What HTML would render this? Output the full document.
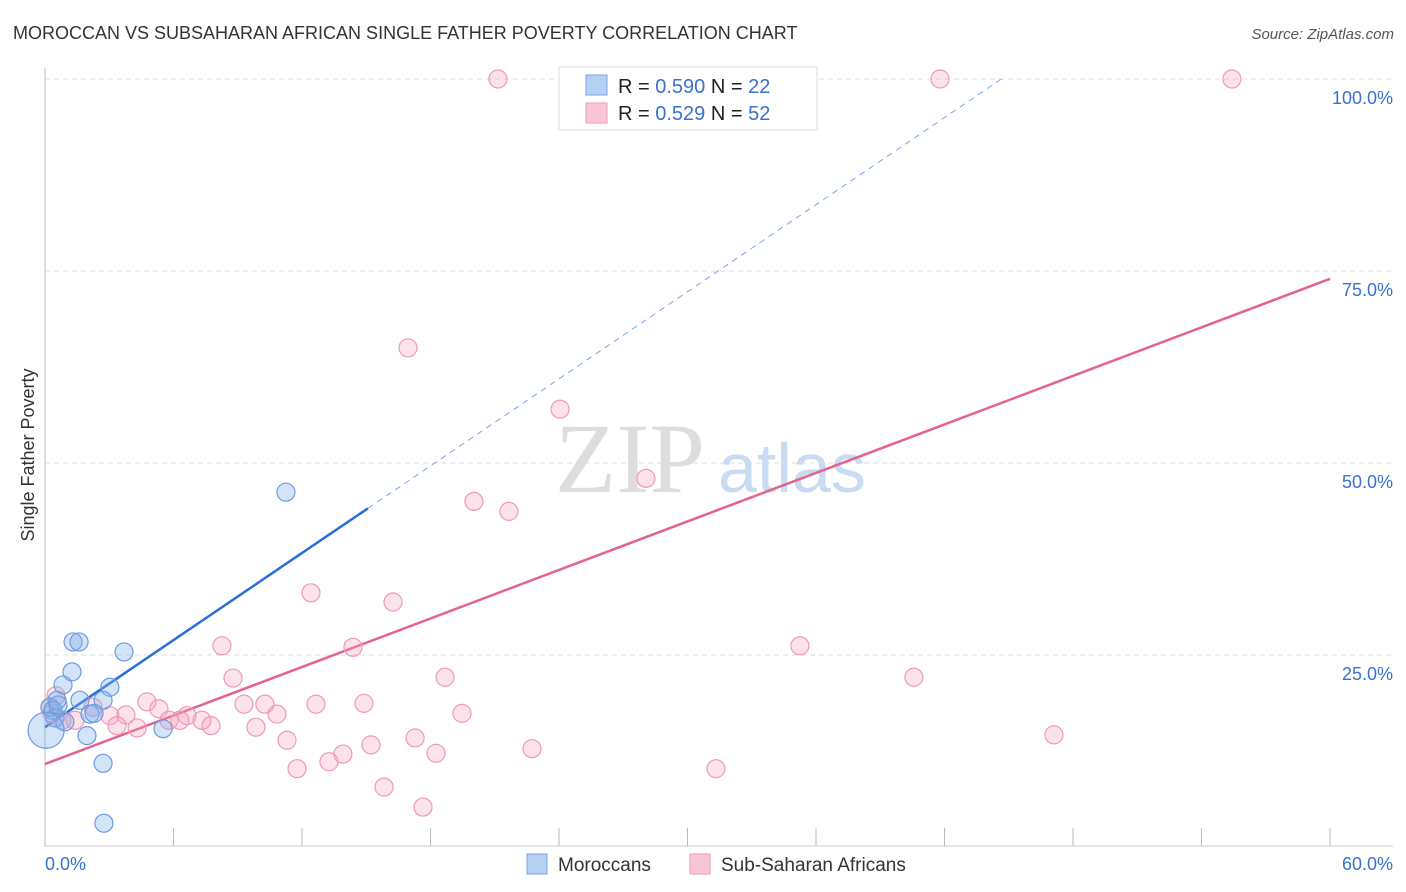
<!DOCTYPE html>
<html><head><meta charset="utf-8"><style>
body{margin:0;background:#fff;font-family:"Liberation Sans",sans-serif;}
svg{display:block}
</style></head><body>
<svg id="chart" width="1406" height="892" viewBox="0 0 1406 892">
<text x="13" y="39" font-size="18" fill="#333">MOROCCAN VS SUBSAHARAN AFRICAN SINGLE FATHER POVERTY CORRELATION CHART</text>
<text x="1394" y="39" font-size="15" fill="#555" font-style="italic" text-anchor="end">Source: ZipAtlas.com</text>
<text x="555" y="492" font-size="100" fill="#ddd" font-family="Liberation Serif, serif">ZIP</text>
<text x="718" y="492" font-size="70" fill="#c8dbf3">atlas</text>
<text transform="translate(34,455) rotate(-90)" font-size="18" fill="#333" text-anchor="middle">Single Father Poverty</text>
<g id="grid"></g><g id="axes"></g><g id="lines"></g><g id="pts"></g>
<g>
<rect x="559" y="67" width="258" height="63" fill="#fff" stroke="#ddd"/>
<rect x="586" y="75" width="21" height="20" fill="#b6d0f4" stroke="#7aa6e6"/>
<rect x="586" y="103" width="21" height="20" fill="#f9c6d6" stroke="#ee9ab5"/>
<text x="618" y="93" font-size="20" fill="#222">R = <tspan fill="#3a70d0">0.590</tspan>   N = <tspan fill="#3a70d0">22</tspan></text>
<text x="618" y="120" font-size="20" fill="#222">R =  <tspan fill="#3a70d0">0.529</tspan>   N = <tspan fill="#3a70d0">52</tspan></text>
</g>
<g>
<rect x="527" y="854" width="20" height="20" fill="#b6d0f4" stroke="#7aa6e6"/>
<text x="558" y="871" font-size="19" fill="#333">Moroccans</text>
<rect x="690" y="854" width="20" height="20" fill="#f9c6d6" stroke="#ee9ab5"/>
<text x="721" y="871" font-size="19" fill="#333">Sub-Saharan Africans</text>
</g>
</svg>
<script>
const xTicks=[0,60];
const yTicks=[25,50,75,100];
const yTickLabels=["25.0%","50.0%","75.0%","100.0%"];
const moroccanX=[1.31,1.59,3.69,0.84,1.26,3.03,0.56,2.71,2.10,2.29,0.23,0.37,0.47,0.93,1.96,5.51,2.71,2.75,11.25,0.61,0.05,1.63];
const moroccanY=[26.7,26.7,25.4,21.1,22.8,20.8,19.1,19.1,17.3,17.4,18.2,17.8,16.8,16.3,14.5,15.4,10.9,3.1,46.2,18.5,15.2,19.1];
const moroccanR=[9,9,9,9,9,9,9,9,9,9,9,9,9,9,9,9,9,9,9,9,18,9];
const subX=[21.15,41.79,55.42,16.95,24.05,28.06,20.03,21.66,12.42,16.25,35.25,8.26,14.38,18.68,40.57,8.78,4.76,5.32,9.29,10.27,12.65,14.89,6.63,7.33,10.83,19.47,6.30,5.79,3.78,3.03,2.24,0.51,0.33,0.79,1.40,3.36,4.30,7.75,9.85,11.30,13.91,15.22,17.28,18.26,22.74,47.11,11.77,13.26,15.83,17.65,31.33,0.23];
const subY=[100,100,100,65.0,57.0,48.0,45.0,43.7,33.1,31.9,26.2,26.2,26.0,22.1,22.1,22.0,18.9,18.0,18.6,18.6,18.6,18.7,17.1,16.5,17.3,17.4,16.5,16.5,17.2,17.1,18.2,19.7,17.4,16.5,16.5,15.8,15.5,15.8,15.6,13.9,12.1,13.3,14.2,12.2,12.8,14.6,10.2,11.1,7.8,5.2,10.2,18.2];
const moroccanTrend=[15.6,1.89];
const subTrend=[10.8,1.053];
const NS="http://www.w3.org/2000/svg";
const X=v=>45+v/60*1285, Y=v=>847-v/100*768;
function mk(tag,attrs,parent){const e=document.createElementNS(NS,tag);for(const k in attrs)e.setAttribute(k,attrs[k]);document.getElementById(parent).appendChild(e);return e;}
yTicks.forEach((t,i)=>{
 const g=mk('line',{x1:45,x2:1393,y1:Y(t),y2:Y(t),stroke:'#ddd','stroke-dasharray':'5,4'},'grid');
 
 
 const l=mk('text',{x:1393,y:Y(t)+25,'font-size':18,fill:'#3a70d0','text-anchor':'end'},'axes');
 l.textContent=yTickLabels[i];
 
 
});
let a=mk('line',{x1:45,x2:45,y1:68,y2:847,stroke:'#bbb'},'axes');


a=mk('line',{x1:45,x2:1393,y1:846,y2:846,stroke:'#ccc'},'axes');


for(let i=0;i<=10;i++){const t=mk('line',{x1:X(i*6),x2:X(i*6),y1:828,y2:846,stroke:'#bbb'},'axes');
 
 }
xTicks.forEach(t=>{const l=mk('text',{x:X(t)+(t==0?0:63),y:870,'font-size':18,fill:'#3a70d0','text-anchor':t==0?'start':'end'},'axes');
 l.textContent=t.toFixed(1)+'%';
 
 });
function line(tr,x0,x1,col,dash,name){const e=mk('line',{x1:X(x0),y1:Y(tr[0]+tr[1]*x0),x2:X(x1),y2:Y(tr[0]+tr[1]*x1),stroke:col,'stroke-width':dash?1:2.5},'lines');
 if(dash)e.setAttribute('stroke-dasharray','6,5');
 
 }
subX.forEach((x,i)=>{const c=mk('circle',{cx:X(x),cy:Y(subY[i]),r:9,fill:'rgba(244,160,188,0.3)',stroke:'#ee9ab5','stroke-width':1.2},'pts');
 
 });
moroccanX.forEach((x,i)=>{const c=mk('circle',{cx:X(x),cy:Y(moroccanY[i]),r:moroccanR[i],fill:'rgba(130,175,235,0.35)',stroke:'#6c9be0','stroke-width':1.2},'pts');
 
 });
line(moroccanTrend,15.08,(100-moroccanTrend[0])/moroccanTrend[1],'#7aa6e6',true,'moroccan-trend-extension');
line(moroccanTrend,0,15.08,'#2a6fd6',false,'moroccan-trend-line');
line(subTrend,0,60,'#e4628f',false,'subsaharan-trend-line');
</script>
</body></html>
